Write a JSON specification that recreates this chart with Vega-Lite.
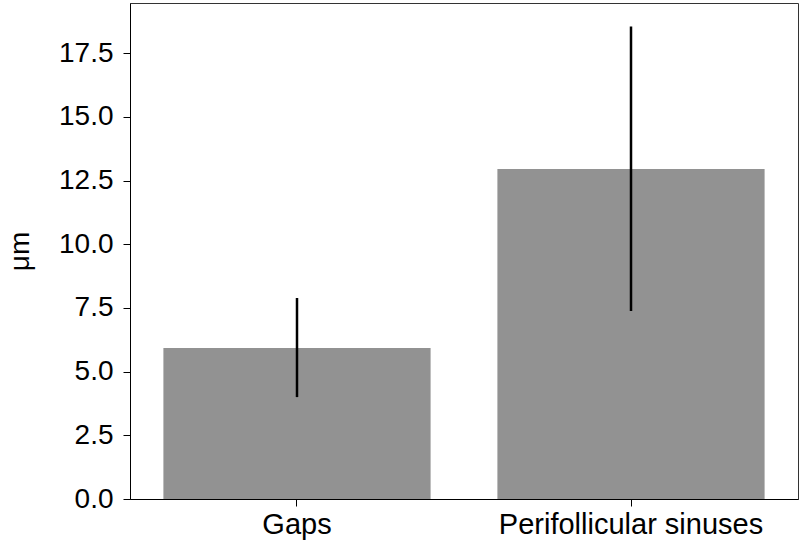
{
  "$schema": "https://vega.github.io/schema/vega-lite/v6.json",
  "width": 668,
  "height": 496,
  "autosize": {"type": "none"},
  "padding": {"left": 130, "top": 3, "right": 2, "bottom": 44},
  "config": {
    "view": {"stroke": "#333333", "strokeWidth": 1},
    "font": "Liberation Sans"
  },
  "data": {
    "values": [
      {"category": "Gaps", "mean": 5.93, "low": 4.0, "high": 7.89},
      {"category": "Perifollicular sinuses", "mean": 12.95, "low": 7.38, "high": 18.55}
    ]
  },
  "layer": [
    {
      "mark": {"type": "bar", "color": "#929292"},
      "encoding": {
        "x": {
          "field": "category",
          "type": "nominal",
          "sort": null,
          "scale": {"paddingInner": 0.2, "paddingOuter": 0.1},
          "axis": {
            "title": null,
            "labelAngle": 0,
            "labelFontSize": 29,
            "labelLimit": 400,
            "labelColor": "#000000",
            "labelPadding": 4,
            "tickSize": 7,
            "tickColor": "#000000",
            "domainColor": "#000000"
          }
        },
        "y": {
          "field": "mean",
          "type": "quantitative",
          "scale": {"domain": [0, 19.47], "nice": false, "zero": true},
          "axis": {
            "title": "μm",
            "titleFontSize": 28,
            "titleFontWeight": "normal",
            "titleColor": "#000000",
            "titlePadding": 24,
            "values": [0, 2.5, 5, 7.5, 10, 12.5, 15, 17.5],
            "format": ".1f",
            "labelFontSize": 28,
            "labelColor": "#000000",
            "labelPadding": 10,
            "tickSize": 7,
            "tickColor": "#000000",
            "domainColor": "#000000",
            "grid": false
          }
        }
      }
    },
    {
      "mark": {"type": "rule", "color": "#000000", "strokeWidth": 2.5},
      "encoding": {
        "x": {"field": "category", "type": "nominal", "sort": null},
        "y": {"field": "low", "type": "quantitative"},
        "y2": {"field": "high"}
      }
    }
  ]
}
